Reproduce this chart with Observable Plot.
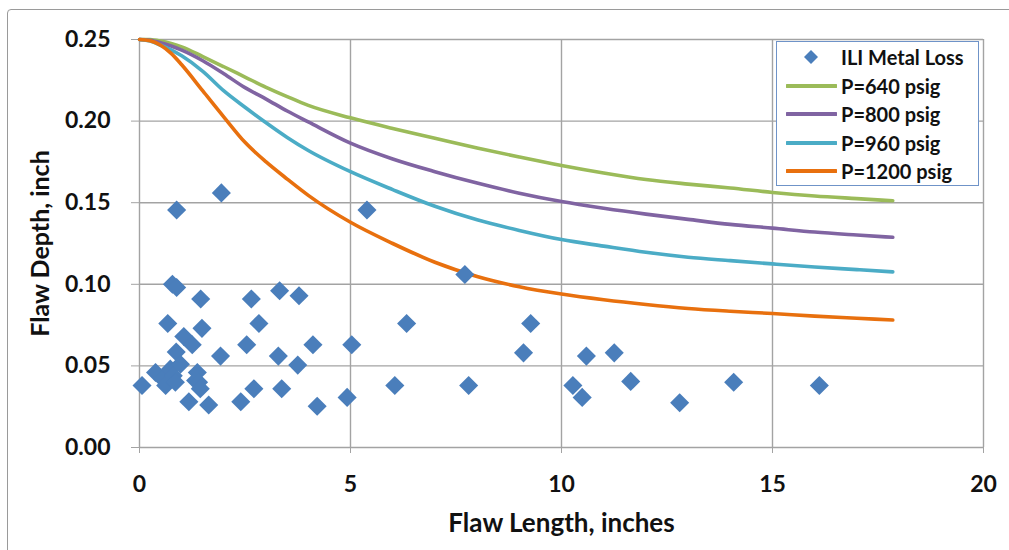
<!DOCTYPE html>
<html>
<head>
<meta charset="utf-8">
<script src="https://cdn.jsdelivr.net/npm/d3@7"></script>
<script src="https://cdn.jsdelivr.net/npm/@observablehq/plot@0.6"></script>
<style>
  body { margin: 0; background: #fff; }
  #wrap { position: relative; width: 1009px; height: 550px; overflow: hidden; font-family: Lato, "Open Sans", sans-serif; }
  #frame { position: absolute; left: 7px; top: 9px; width: 1020px; height: 600px; border: 1.5px solid #9a9a9a; border-radius: 4px; }
  #chart { position: absolute; left: 0; top: 0; }
  #legend { position: absolute; left: 776px; top: 41px; width: 203px; height: 145px; border: 1px solid #6f93c8; background: #fff; box-sizing: border-box; }
  .row { position: absolute; left: 0; height: 28px; display: flex; align-items: center; font-weight: bold; font-size: 20px; color: #111; white-space: nowrap; }
  .row svg { margin-left: 9px; margin-right: 4px; }
</style>
</head>
<body>
<div id="wrap">
  <div id="frame"></div>
  <div id="chart"></div>
  <div id="legend"></div>
</div>
<script>
// ILI metal loss flaws
const flawLength = [0.06,0.38,0.55,0.62,0.67,0.73,0.78,0.80,0.85,0.87,0.88,0.88,0.97,1.05,1.17,1.25,1.33,1.37,1.40,1.44,1.45,1.48,1.64,1.92,1.94,2.40,2.54,2.65,2.71,2.83,3.29,3.32,3.37,3.75,3.78,4.11,4.21,4.92,5.03,5.39,6.05,6.33,7.71,7.80,9.10,9.27,10.27,10.49,10.59,11.25,11.64,12.80,14.08,16.11];
const flawDepth  = [0.038,0.046,0.042,0.038,0.076,0.048,0.100,0.044,0.040,0.0585,0.098,0.1455,0.051,0.068,0.028,0.063,0.041,0.046,0.040,0.036,0.091,0.073,0.026,0.056,0.156,0.028,0.063,0.091,0.036,0.076,0.056,0.096,0.036,0.0505,0.093,0.063,0.0253,0.0307,0.063,0.1455,0.038,0.076,0.106,0.038,0.058,0.076,0.038,0.0307,0.056,0.058,0.0405,0.0274,0.040,0.038];

// Failure curves (length, inches)
const curveLength = [0,0.25,0.5,0.75,1,1.5,2,2.5,3,3.5,4,5,6,7,8,9,10,11,12,13,14,15,16,17,17.85];
const p640  = [0.25,0.2499,0.2490,0.2475,0.2455,0.2395,0.2333,0.2270,0.2207,0.2150,0.2096,0.2020,0.1955,0.1895,0.1835,0.1780,0.1728,0.1682,0.1642,0.1614,0.1590,0.1563,0.1541,0.1525,0.1512];
const p800  = [0.25,0.2495,0.2480,0.2460,0.2435,0.2370,0.2290,0.2205,0.2135,0.2062,0.1995,0.1865,0.1768,0.1690,0.1620,0.1558,0.1507,0.1466,0.1430,0.1398,0.1367,0.1344,0.1320,0.1302,0.1288];
const p960  = [0.25,0.2490,0.2465,0.2437,0.2400,0.2305,0.2185,0.2085,0.1990,0.1900,0.1820,0.1690,0.1580,0.1478,0.1395,0.1330,0.1274,0.1234,0.1196,0.1166,0.1145,0.1125,0.1106,0.1090,0.1076];
const p1200 = [0.25,0.2492,0.2465,0.2415,0.2345,0.2185,0.2025,0.1870,0.1750,0.1645,0.1545,0.1380,0.1250,0.1135,0.1048,0.0985,0.0940,0.0905,0.0876,0.0852,0.0835,0.0821,0.0805,0.0792,0.0781];

const seriesNames = ["P=640 psig","P=800 psig","P=960 psig","P=1200 psig"];
const seriesColors = ["#9bbb59","#8064a2","#4bacc6","#e8700e"];
const seriesValues = [p640, p800, p960, p1200];
const scatterName = "ILI Metal Loss";
const scatterColor = "#4a7ebb";

const xTicks = [0,5,10,15,20];
const yTicks = [0,0.05,0.10,0.15,0.20,0.25];

const points = flawLength.map((x,i) => ({x, y: flawDepth[i]}));
const curves = seriesValues.map((vals,k) => curveLength.map((x,i) => ({x, y: vals[i], s: seriesNames[k]})));

const gridColor = "#a3a3a3";
const plot = Plot.plot({
  width: 1009,
  height: 550,
  marginLeft: 139,
  marginRight: 26,
  marginTop: 39,
  marginBottom: 103,
  x: {domain: [0,20]},
  y: {domain: [0,0.25]},
  style: {fontFamily: "Lato, 'Open Sans', sans-serif", fontSize: "23px", fontWeight: "bold", color: "#111", background: "transparent"},
  marks: [
    Plot.gridX(xTicks, {stroke: gridColor, strokeOpacity: 1, strokeWidth: 1.4}),
    Plot.gridY(yTicks, {stroke: gridColor, strokeOpacity: 1, strokeWidth: 1.4}),
    Plot.axisX(xTicks, {tickSize: 6, tickPadding: 22, stroke: gridColor, label: null, tickFormat: d3.format("d")}),
    Plot.axisY(yTicks, {tickSize: 8, tickPadding: 21, stroke: gridColor, label: null, tickFormat: d3.format(".2f")}),
    ...curves.map((c,k) => Plot.line(c, {x: "x", y: "y", stroke: seriesColors[k], strokeWidth: 3.6, curve: "monotone-x"})),
    Plot.dot(points, {x: "x", y: "y", symbol: "diamond2", r: 8.6, fill: scatterColor, stroke: "none"}),
    Plot.text(["Flaw Length, inches"], {frameAnchor: "bottom", dy: 84, text: d => d, fontSize: 26, fontWeight: "bold", fill: "#111"}),
    Plot.text(["Flaw Depth, inch"], {frameAnchor: "left", dx: -99, rotate: -90, textAnchor: "middle", text: d => d, fontSize: 25, fontWeight: "bold", fill: "#111"})
  ]
});
document.getElementById("chart").appendChild(plot);

// legend
const legend = document.getElementById("legend");
const entries = [{name: scatterName, color: scatterColor, type: "dot"}].concat(seriesNames.map((n,k) => ({name: n, color: seriesColors[k], type: "line"})));
entries.forEach((e,i) => {
  const row = document.createElement("div");
  row.className = "row";
  row.style.top = (1 + i*28.6) + "px";
  const sw = e.type === "dot"
    ? `<svg width="51" height="20"><path d="M25,3 L32,10 L25,17 L18,10 Z" fill="${e.color}"/></svg>`
    : `<svg width="51" height="20"><line x1="1" y1="10" x2="50" y2="10" stroke="${e.color}" stroke-width="4" stroke-linecap="round"/></svg>`;
  row.innerHTML = sw + `<span>${e.name}</span>`;
  legend.appendChild(row);
});
</script>
</body>
</html>
